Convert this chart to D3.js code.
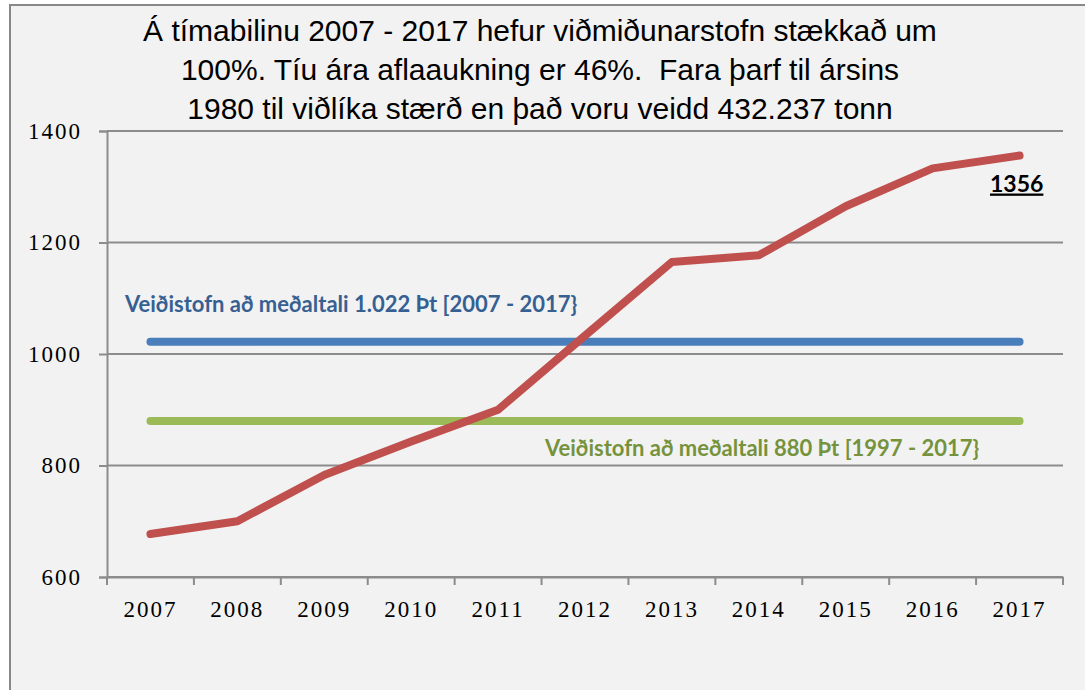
<!DOCTYPE html>
<html>
<head>
<meta charset="utf-8">
<script src="https://cdnjs.cloudflare.com/ajax/libs/d3/7.8.5/d3.min.js"></script>
<style>
  body { margin: 0; background: #ffffff; }
  svg { display: block; }
</style>
</head>
<body>
<div id="figure"></div>
<script>
// data
var years = ["2007", "2008", "2009", "2010", "2011", "2012", "2013", "2014", "2015", "2016", "2017"];
var stofn = [677, 700, 783, 843, 900, 1033, 1165, 1177, 1265, 1333, 1356];
var avg10 = 1022;
var avg20 = 880;
var yTicks = [600, 800, 1000, 1200, 1400];
var titleLines = [
    "Á tímabilinu 2007 - 2017 hefur viðmiðunarstofn stækkað um",
    "100%. Tíu ára aflaaukning er 46%.  Fara þarf til ársins",
    "1980 til viðlíka stærð en það voru veidd 432.237 tonn"
];
var label10 = "Veiðistofn að meðaltali 1.022 Þt [2007 - 2017}";
var label20 = "Veiðistofn að meðaltali 880 Þt [1997 - 2017}";
var lastLabel = "1356";

var w = 1085;
var h = 690;
var svg = d3.select("#figure")
    .append("svg")
    .attr("width", w)
    .attr("height", h);

// chart area background + border
svg.append("rect")
    .attr("x", 10)
    .attr("y", 5)
    .attr("width", w + 20)
    .attr("height", h + 20)
    .attr("fill", "#f2f2f2")
    .attr("stroke", "#888888")
    .attr("stroke-width", 2);

var plotLeft = 107, plotRight = 1063, plotTop = 131, plotBottom = 577;

var xScale = d3.scaleBand()
    .domain(years)
    .range([plotLeft, plotRight]);

var yScale = d3.scaleLinear()
    .domain([600, 1400])
    .range([plotBottom, plotTop]);

// title
svg.selectAll(".title")
    .data(titleLines)
    .enter()
    .append("text")
    .attr("class", "title")
    .attr("x", 540)
    .attr("y", function(d, i) { return 41 + i * 39; })
    .attr("text-anchor", "middle")
    .style("font-family", "'Liberation Sans', Arial, sans-serif")
    .style("font-size", "30px")
    .style("white-space", "pre")
    .attr("fill", "#000")
    .text(function(d) { return d; });

// gridlines
svg.selectAll(".grid")
    .data(yTicks)
    .enter()
    .append("line")
    .attr("x1", plotLeft)
    .attr("x2", plotRight)
    .attr("y1", function(d) { return yScale(d); })
    .attr("y2", function(d) { return yScale(d); })
    .attr("stroke", "#8c8c8c")
    .attr("stroke-width", 2);

// y axis
var yAxis = d3.axisLeft()
    .scale(yScale)
    .tickValues(yTicks)
    .tickFormat(d3.format("d"))
    .tickSize(8)
    .tickPadding(17);

var gy = svg.append("g")
    .attr("transform", "translate(" + plotLeft + ",0)")
    .call(yAxis);
gy.select(".domain").attr("stroke", "#8c8c8c").attr("stroke-width", 2);
gy.selectAll(".tick line").attr("stroke", "#8c8c8c").attr("stroke-width", 2);
gy.selectAll("text")
    .style("font-family", "'Liberation Serif', 'Times New Roman', serif")
    .style("font-size", "23px")
    .style("letter-spacing", "2px")
    .attr("fill", "#000");

// x axis
var xAxis = d3.axisBottom()
    .scale(xScale)
    .tickSize(0)
    .tickPadding(24);

var gx = svg.append("g")
    .attr("transform", "translate(0," + plotBottom + ")")
    .call(xAxis);
gx.select(".domain").attr("stroke", "#8c8c8c").attr("stroke-width", 2);
gx.selectAll("text")
    .style("font-family", "'Liberation Serif', 'Times New Roman', serif")
    .style("font-size", "23px")
    .style("letter-spacing", "2px")
    .attr("fill", "#000");

// tick marks at band boundaries
var bounds = years.map(function(d) { return xScale(d); }).concat([plotRight]);
svg.selectAll(".xtick")
    .data(bounds)
    .enter()
    .append("line")
    .attr("x1", function(d) { return d; })
    .attr("x2", function(d) { return d; })
    .attr("y1", plotBottom)
    .attr("y2", plotBottom + 8)
    .attr("stroke", "#8c8c8c")
    .attr("stroke-width", 2);

var cx = function(d) { return xScale(d) + xScale.bandwidth() / 2; };

// average lines
svg.append("line")
    .attr("x1", cx(years[0]))
    .attr("x2", cx(years[years.length - 1]))
    .attr("y1", yScale(avg10))
    .attr("y2", yScale(avg10))
    .attr("stroke", "#4a7ebb")
    .attr("stroke-width", 8)
    .attr("stroke-linecap", "round");

svg.append("line")
    .attr("x1", cx(years[0]))
    .attr("x2", cx(years[years.length - 1]))
    .attr("y1", yScale(avg20))
    .attr("y2", yScale(avg20))
    .attr("stroke", "#9bbb59")
    .attr("stroke-width", 8)
    .attr("stroke-linecap", "round");

// main series
svg.append("path")
    .datum(years)
    .attr("fill", "none")
    .attr("stroke", "#c0504d")
    .attr("stroke-width", 8)
    .attr("stroke-linecap", "round")
    .attr("stroke-linejoin", "round")
    .attr("d", d3.line()
        .x(function(d) { return cx(d); })
        .y(function(d, i) { return yScale(stofn[i]); }));

// labels
svg.append("text")
    .attr("x", 125)
    .attr("y", 312)
    .style("font-family", "Lato, 'Open Sans', sans-serif")
    .style("font-weight", "bold")
    .style("font-size", "22px")
    .attr("fill", "#376092")
    .text(label10);

svg.append("text")
    .attr("x", 545)
    .attr("y", 456)
    .style("font-family", "Lato, 'Open Sans', sans-serif")
    .style("font-weight", "bold")
    .style("font-size", "22px")
    .attr("fill", "#76923c")
    .text(label20);

svg.append("text")
    .attr("x", 990)
    .attr("y", yScale(stofn[stofn.length - 1]) + 36)
    .style("font-family", "Lato, 'Open Sans', sans-serif")
    .style("font-weight", "bold")
    .style("font-size", "23px")
    .style("text-decoration", "underline")
    .attr("fill", "#000")
    .text(lastLabel);
</script>
</body>
</html>
